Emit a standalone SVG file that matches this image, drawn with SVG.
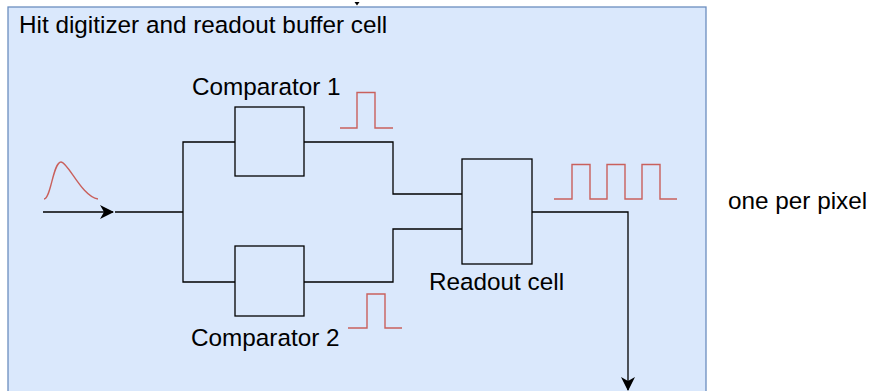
<svg xmlns="http://www.w3.org/2000/svg" width="869" height="391" viewBox="0 0 869 391">
<style>
  .lbl { font-family: "Liberation Sans", Arial, sans-serif; font-size: 24.3px; fill: #000; }
  .box { fill: #dae8fc; stroke: #000; stroke-width: 1.3; }
  .wire { fill: none; stroke: #000; stroke-width: 1.3; }
  .sig { fill: none; stroke: #c9605c; stroke-width: 1.4; }
</style>
<defs>
  <marker id="arr" markerWidth="14" markerHeight="14" refX="13" refY="7" orient="auto" markerUnits="userSpaceOnUse">
    <path d="M0,0 L14,7 L0,14 L4,7 Z" fill="#000"/>
  </marker>
</defs>
<rect width="869" height="391" fill="#fff"/>
<g id="container">
  <rect x="8" y="7" width="698" height="400" fill="#dae8fc" stroke="#6c8ebf" stroke-width="1.3"/>
  <text class="lbl" x="19" y="33">Hit digitizer and readout buffer cell</text>
</g>
<path d="M354.5,2 L359.5,2 L357,5.5 Z" fill="#000"/>
<g id="connectors">
  <line class="wire" x1="43" y1="212" x2="113" y2="212" marker-end="url(#arr)"/>
  <polyline class="wire" points="115,212 183,212"/>
  <polyline class="wire" points="235,142 183,142 183,282 235,282"/>
  <polyline class="wire" points="304,142 393,142 393,194 462,194"/>
  <polyline class="wire" points="304,282 393,282 393,229 462,229"/>
  <polyline class="wire" points="532,212 628,212 628,390" marker-end="url(#arr)"/>
</g>
<g id="comparator1">
  <rect class="box" x="235" y="107" width="69" height="69"/>
  <text class="lbl" x="192" y="95">Comparator 1</text>
</g>
<g id="comparator2">
  <rect class="box" x="235" y="246" width="69" height="70"/>
  <text class="lbl" x="191" y="346">Comparator 2</text>
</g>
<g id="readout">
  <rect class="box" x="462" y="159" width="70" height="105"/>
  <text class="lbl" x="429" y="290">Readout cell</text>
</g>
<g id="signals">
  <path class="sig" d="M44,199 C51,199 53,162 61,162 C68,162 82,197 98,199"/>
  <polyline class="sig" points="340,128 357,128 357,92.5 375,92.5 375,128 393,128"/>
  <polyline class="sig" points="348,328 367,328 367,294 385,294 385,328 402,328"/>
  <polyline class="sig" points="554,199 572,199 572,164.5 590,164.5 590,199 607,199 607,164.5 625,164.5 625,199 642,199 642,164.5 660,164.5 660,199 677,199"/>
</g>
<g id="note">
  <text class="lbl" x="728" y="209">one per pixel</text>
</g>
</svg>
